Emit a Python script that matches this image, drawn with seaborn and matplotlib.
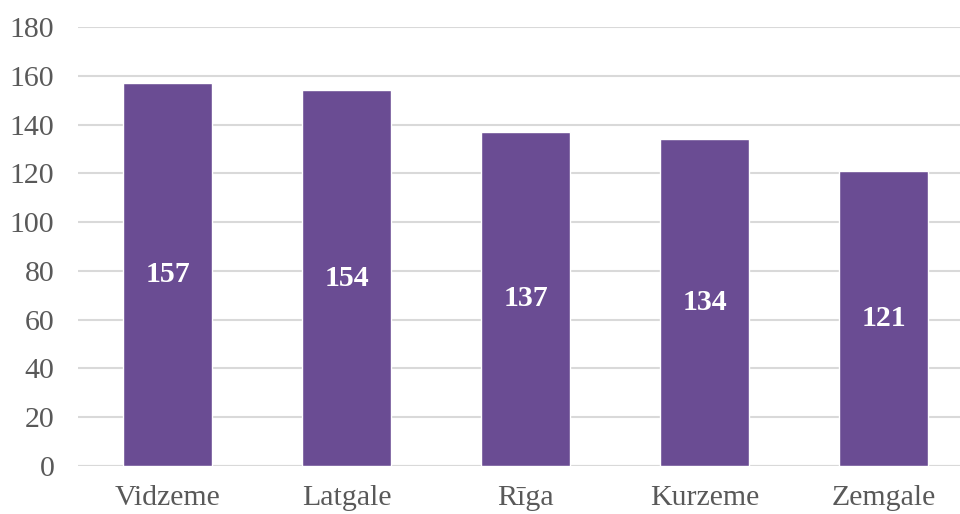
import matplotlib
matplotlib.use("Agg")
import matplotlib.pyplot as plt
import seaborn as sns
import pandas as pd

regions = ["Vidzeme", "Latgale", "Rīga", "Kurzeme", "Zemgale"]
values = [157, 154, 137, 134, 121]
yticks = [0, 20, 40, 60, 80, 100, 120, 140, 160, 180]

bar_color = "#6A4C93"
grid_color = "#D9D9D9"
text_color = "#595959"

sns.set_theme(style="white")
plt.rcParams["font.family"] = ["Liberation Serif", "DejaVu Serif"]

df = pd.DataFrame({"region": regions, "value": values})

fig = plt.figure(figsize=(9.6, 5.14), dpi=100)
ax = fig.add_axes([78 / 960, 48 / 514, 895 / 960, 439 / 514])

sns.barplot(data=df, x="region", y="value", color=bar_color, width=0.5,
            saturation=1, ax=ax, zorder=3)

ax.set_xlim(-0.5, 4.5)
ax.set_ylim(0, 180)
ax.set_yticks(yticks)
ax.yaxis.grid(True, color=grid_color, linewidth=1.5, zorder=0)
ax.set_axisbelow(True)
for s in ax.spines.values():
    s.set_visible(False)
ax.axhline(0, color=grid_color, linewidth=1.5, zorder=2)

ax.set_xlabel("")
ax.set_ylabel("")
ax.tick_params(axis="both", length=0, labelsize=21.5, colors=text_color)
ax.tick_params(axis="y", pad=17)
ax.tick_params(axis="x", pad=14)

for i, v in enumerate(values):
    ax.text(i, v / 2, str(v), ha="center", va="center", color="white",
            fontsize=21.5, fontweight="bold")

fig.savefig("out.png", dpi=100)
